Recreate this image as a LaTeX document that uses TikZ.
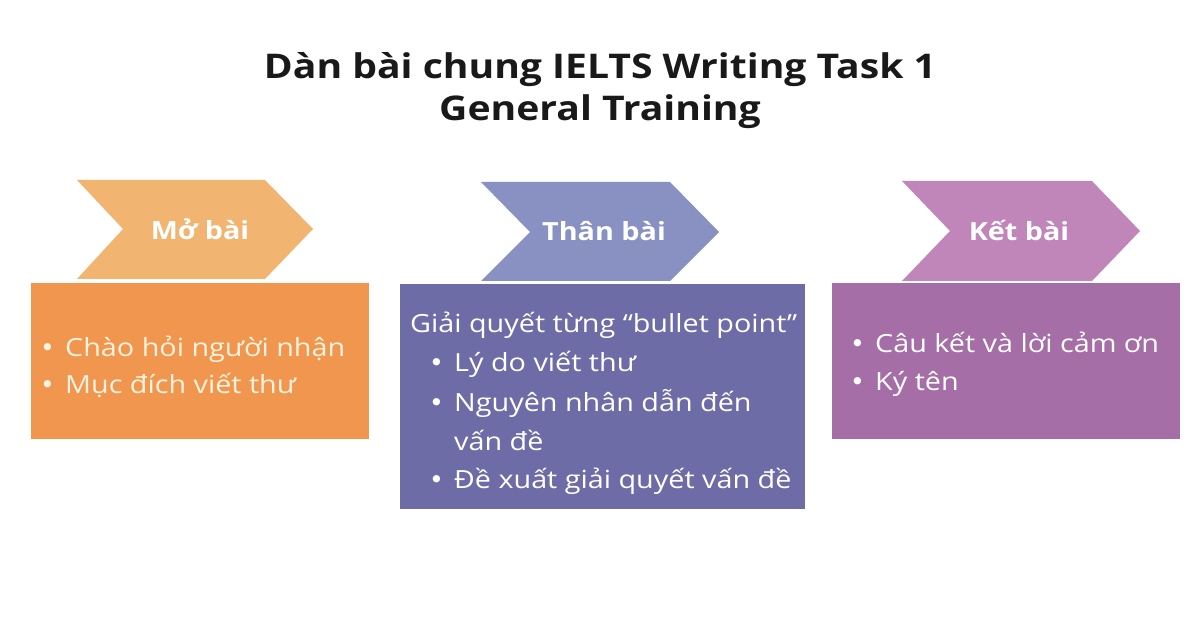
\documentclass[tikz,border=0pt]{standalone}
\usepackage{fontspec}
\setmainfont[FakeStretch=1.15]{Open Sans}
\newfontfamily\dotfont{DejaVu Sans}

\definecolor{moHead}{HTML}{F2B471}
\definecolor{moBody}{HTML}{F0964E}
\definecolor{thanHead}{HTML}{8991C3}
\definecolor{thanBody}{HTML}{6E6CA6}
\definecolor{ketHead}{HTML}{C086B9}
\definecolor{ketBody}{HTML}{A66EA7}
\definecolor{cream}{HTML}{FFF3DF}

\newcommand{\bul}{\makebox[25pt][l]{\dotfont •}}

\begin{document}
\begin{tikzpicture}[x=1pt,y=-1pt,
    body/.style={anchor=north west, inner sep=0pt},
    head/.style={font=\bfseries\fontsize{25}{30}\selectfont, text=white, inner sep=0pt},
    line/.style={anchor=base west, inner sep=0pt, text=white, font=\fontsize{25}{30}\selectfont}]
    \useasboundingbox[fill=white] (0,0) rectangle (1200,628);

    % title
    \node[align=center, font=\bfseries\fontsize{34}{42}\selectfont, text=black!90] (title) at (600,91)
        {Dàn bài chung IELTS Writing Task 1\\General Training};

    % heads
    \fill[moHead] (77,180) -- (265,180) -- (313,229) -- (265,279) -- (77,279) -- (123,229) -- cycle;
    \fill[thanHead] (481,182) -- (670,182) -- (719,232) -- (670,281) -- (481,281) -- (530,232) -- cycle;
    \fill[ketHead] (902,181) -- (1092,181) -- (1140,231) -- (1092,281) -- (902,281) -- (950,231) -- cycle;
    \node[head] (moTitle) at (200,229) {Mở bài};
    \node[head] (thanTitle) at (604,231) {Thân bài};
    \node[head] (ketTitle) at (1019,230) {Kết bài};

    % bodies
    \node[body, fill=moBody, minimum width=338pt, minimum height=156pt] (moBox) at (31,283) {};
    \node[body, fill=thanBody, minimum width=405pt, minimum height=225pt] (thanBox) at (400,284) {};
    \node[body, fill=ketBody, minimum width=348pt, minimum height=156pt] (ketBox) at (832,283) {};

    % Mở bài
    \node[line, text=cream] (mo1) at (40,357) {\bul Chào hỏi người nhận};
    \node[line, text=cream] (mo2) at (40,393) {\bul Mục đích viết thư};

    % Thân bài
    \node[line] (than0) at (410,333) {Giải quyết từng “bullet point”};
    \node[line] (than1) at (429,372) {\bul Lý do viết thư};
    \node[line] (than2) at (429,411) {\bul Nguyên nhân dẫn đến};
    \node[line] (than3) at (454,450) {vấn đề};
    \node[line] (than4) at (429,488) {\bul Đề xuất giải quyết vấn đề};

    % Kết bài
    \node[line] (ket1) at (850,353) {\bul Câu kết và lời cảm ơn};
    \node[line] (ket2) at (850,391) {\bul Ký tên};
\end{tikzpicture}
\end{document}
